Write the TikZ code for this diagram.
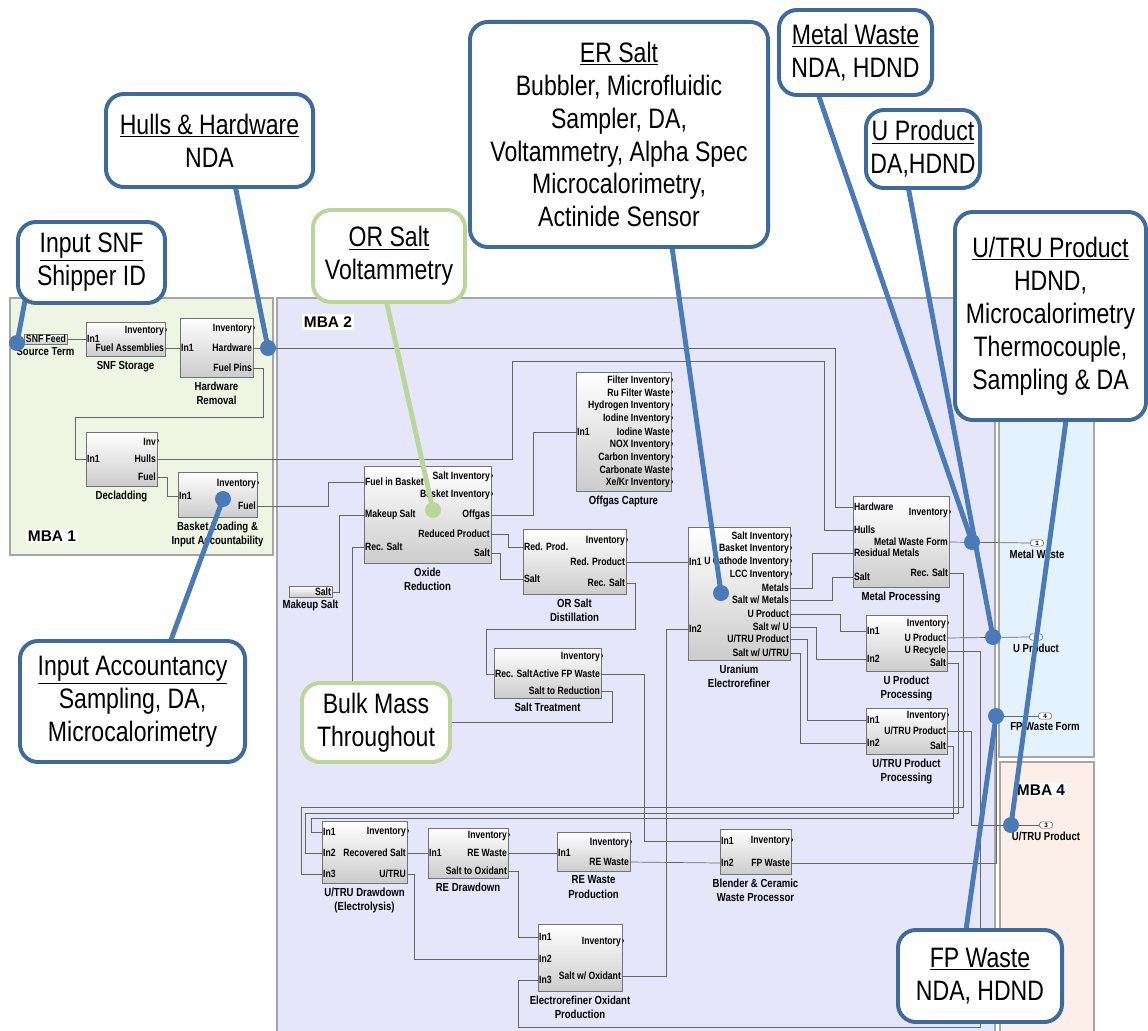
\documentclass[tikz,border=0pt]{standalone}
\usepackage{fontspec}
\setmainfont{Liberation Sans}
\newfontfamily\nar[FakeStretch=0.82]{Liberation Sans}
\usetikzlibrary{positioning,fit}
\definecolor{mbaone}{HTML}{EEF5E3}
\definecolor{mbatwo}{HTML}{E6E6FB}
\definecolor{mbathree}{HTML}{E4F2FD}
\definecolor{mbafour}{HTML}{FCEEE8}
\definecolor{callblue}{HTML}{4A7BB7}
\definecolor{callrim}{HTML}{3F6B9C}
\definecolor{callgreen}{HTML}{BBD698}

\begin{document}
\begin{tikzpicture}[x=0.025cm,y=-0.025cm,
  blk/.style={draw=black!55,line width=0.6pt,top color=white,bottom color=black!20,inner sep=0pt},
  portlbl/.style={font=\nar\bfseries\fontsize{7.5}{8}\selectfont,inner sep=0.8pt,outer sep=0pt},
  ip/.style={portlbl,anchor=west},
  op/.style={portlbl,anchor=east},
  inv/.style={op,label={[portlbl,inner sep=0pt,font=\nar\bfseries\fontsize{6}{6}\selectfont]east:›}},
  blkcap/.style={font=\nar\bfseries\fontsize{8.3}{10}\selectfont,align=center,inner sep=0pt},
  wire/.style={draw=black!60,line width=0.5pt},
  mba/.style={draw=black!35,line width=0.8pt},
  mbalbl/.style={fill=white,font=\bfseries\fontsize{11}{12}\selectfont,inner sep=1.5pt},
  oport/.style={draw=black!60,fill=white,rounded corners=2pt,minimum width=0.33cm,minimum height=0.16cm,inner sep=0pt,font=\bfseries\fontsize{4.5}{5}\selectfont},
  calloutbox/.style={draw=callrim,line width=2.8pt,rounded corners=0.45cm,fill=white,align=center,inner sep=0pt,font=\nar\fontsize{20}{23.4}\selectfont},
  greencall/.style={calloutbox,draw=callgreen},
  callline/.style={draw=callblue,line width=3.5pt},
  greenline/.style={draw=callgreen,line width=3.5pt},
  probe/.style={circle,fill=callblue,minimum size=0.4cm,inner sep=0pt}]

\useasboundingbox[fill=white] (0,0) rectangle (1148,1030);

% material balance areas
\filldraw[mba,fill=mbaone] (10,298) rectangle (273,555);
\filldraw[mba,fill=mbatwo] (277,298) rectangle (995,1032);
\filldraw[mba,fill=mbathree] (999,400) rectangle (1094,757);
\filldraw[mba,fill=mbafour] (1000,762) rectangle (1094,1032);
\node[mbalbl] (mba1) at (52,536) {MBA 1};
\node[mbalbl] (mba2) at (328,322) {MBA 2};
\node[mbalbl] (mba4) at (1041,790) {MBA 4};

% MBA 1 blocks
\node[blk,fit={(24,334) (67,344)}] (srcsnf) {};
\node[op] (srcsnf-out) at (67,339) {SNF Feed};
\node[blkcap,below=2pt of srcsnf] (srcsnf-cap) {Source Term};

\node[blk,fit={(86,322) (165,356)}] (snfst) {};
\node[ip] (snfst-in1) at (86,339) {In1};
\node[inv] (snfst-inv) at (165,331) {Inventory};
\node[op] (snfst-fa) at (165,348) {Fuel Assemblies};
\node[blkcap,below=3pt of snfst] (snfst-cap) {SNF Storage};

\node[blk,fit={(180,318) (253,377)}] (hwrem) {};
\node[ip] (hwrem-in1) at (180,348) {In1};
\node[inv] (hwrem-inv) at (253,329) {Inventory};
\node[op] (hwrem-hw) at (253,348) {Hardware};
\node[op] (hwrem-fp) at (253,368) {Fuel Pins};
\node[blkcap,below=3pt of hwrem] (hwrem-cap) {Hardware\\Removal};

\node[blk,fit={(86,432) (157,486)}] (decl) {};
\node[ip] (decl-in1) at (86,459) {In1};
\node[inv] (decl-inv) at (157,442) {Inv};
\node[op] (decl-hulls) at (157,459) {Hulls};
\node[op] (decl-fuel) at (157,477) {Fuel};
\node[blkcap,below=3pt of decl] (decl-cap) {Decladding};

\node[blk,fit={(178,472) (257,517)}] (bask) {};
\node[ip] (bask-in1) at (178,496) {In1};
\node[inv] (bask-inv) at (257,484) {Inventory};
\node[op] (bask-fuel) at (257,506) {Fuel};
\node[blkcap,below=3pt of bask] (bask-cap) {Basket Loading \&\\Input Accountability};

% MBA 2 blocks
\node[blk,fit={(364,466) (491,563)}] (oxred) {};
\node[ip] (oxred-fib) at (364,482) {Fuel in Basket};
\node[ip] (oxred-mks) at (364,515) {Makeup Salt};
\node[ip] (oxred-rs) at (364,547) {Rec. Salt};
\node[inv] (oxred-sinv) at (491,477) {Salt Inventory};
\node[inv] (oxred-binv) at (491,495) {Basket Inventory};
\node[op] (oxred-og) at (491,515) {Offgas};
\node[op] (oxred-rp) at (491,534) {Reduced Product};
\node[op] (oxred-salt) at (491,553) {Salt};
\node[blkcap,below=3pt of oxred] (oxred-cap) {Oxide\\Reduction};

\node[blk,fit={(289,586) (332,597)}] (srcsalt) {};
\node[op] (srcsalt-out) at (332,592) {Salt};
\node[blkcap,below=2pt of srcsalt] (srcsalt-cap) {Makeup Salt};

\node[blk,fit={(576,372) (671,491)}] (offgas) {};
\node[ip] (offgas-in1) at (576,432) {In1};
\node[inv] (offgas-o1) at (671,381) {Filter Inventory};
\node[inv] (offgas-o2) at (671,393) {Ru Filter Waste};
\node[inv] (offgas-o3) at (671,406) {Hydrogen Inventory};
\node[inv] (offgas-o4) at (671,419) {Iodine Inventory};
\node[inv] (offgas-o5) at (671,432) {Iodine Waste};
\node[inv] (offgas-o6) at (671,445) {NOX Inventory};
\node[inv] (offgas-o7) at (671,458) {Carbon Inventory};
\node[inv] (offgas-o8) at (671,470) {Carbonate Waste};
\node[inv] (offgas-o9) at (671,483) {Xe/Kr Inventory};
\node[blkcap,below=3pt of offgas] (offgas-cap) {Offgas Capture};

\node[blk,fit={(523,529) (626,594)}] (orsd) {};
\node[ip] (orsd-rp) at (523,547) {Red. Prod.};
\node[ip] (orsd-salt) at (523,579) {Salt};
\node[inv] (orsd-inv) at (626,541) {Inventory};
\node[op] (orsd-rpo) at (626,562) {Red. Product};
\node[op] (orsd-rs) at (626,583) {Rec. Salt};
\node[blkcap,below=3pt of orsd] (orsd-cap) {OR Salt\\Distillation};

\node[blk,fit={(494,648) (601,698)}] (salttr) {};
\node[ip] (salttr-rs) at (494,674) {Rec. Salt};
\node[inv] (salttr-inv) at (601,657) {Inventory};
\node[op] (salttr-afp) at (601,674) {Active FP Waste};
\node[op] (salttr-str) at (601,691) {Salt to Reduction};
\node[blkcap,below=3pt of salttr] (salttr-cap) {Salt Treatment};

\node[blk,fit={(688,527) (790,660)}] (uer) {};
\node[ip] (uer-in1) at (688,562) {In1};
\node[ip] (uer-in2) at (688,629) {In2};
\node[inv] (uer-sinv) at (790,537) {Salt Inventory};
\node[inv] (uer-binv) at (790,549) {Basket Inventory};
\node[inv] (uer-ucinv) at (790,562) {U Cathode Inventory};
\node[inv] (uer-lcc) at (790,575) {LCC Inventory};
\node[op] (uer-met) at (790,588) {Metals};
\node[op] (uer-swm) at (790,600) {Salt w/ Metals};
\node[op] (uer-up) at (790,614) {U Product};
\node[op] (uer-swu) at (790,627) {Salt w/ U};
\node[op] (uer-utp) at (790,639) {U/TRU Product};
\node[op] (uer-swut) at (790,653) {Salt w/ U/TRU};
\node[blkcap,below=3pt of uer] (uer-cap) {Uranium\\Electrorefiner};

\node[blk,fit={(853,496) (949,587)}] (metp) {};
\node[ip] (metp-hw) at (853,507) {Hardware};
\node[ip] (metp-hulls) at (853,530) {Hulls};
\node[ip] (metp-rm) at (853,553) {Residual Metals};
\node[ip] (metp-salt) at (853,577) {Salt};
\node[inv] (metp-inv) at (949,513) {Inventory};
\node[op] (metp-mwf) at (949,542) {Metal Waste Form};
\node[op] (metp-rs) at (949,573) {Rec. Salt};
\node[blkcap,below=3pt of metp] (metp-cap) {Metal Processing};

\node[blk,fit={(866,615) (947,671)}] (upp) {};
\node[ip] (upp-in1) at (866,631) {In1};
\node[ip] (upp-in2) at (866,659) {In2};
\node[inv] (upp-inv) at (947,624) {Inventory};
\node[op] (upp-up) at (947,638) {U Product};
\node[op] (upp-ur) at (947,651) {U Recycle};
\node[op] (upp-salt) at (947,663) {Salt};
\node[blkcap,below=3pt of upp] (upp-cap) {U Product\\Processing};

\node[blk,fit={(866,708) (947,754)}] (utp) {};
\node[ip] (utp-in1) at (866,720) {In1};
\node[ip] (utp-in2) at (866,743) {In2};
\node[inv] (utp-inv) at (947,716) {Inventory};
\node[op] (utp-utp) at (947,731) {U/TRU Product};
\node[op] (utp-salt) at (947,746) {Salt};
\node[blkcap,below=3pt of utp] (utp-cap) {U/TRU Product\\Processing};

\node[blk,fit={(322,821) (407,883)}] (utdd) {};
\node[ip] (utdd-in1) at (322,832) {In1};
\node[ip] (utdd-in2) at (322,853) {In2};
\node[ip] (utdd-in3) at (322,874) {In3};
\node[inv] (utdd-inv) at (407,832) {Inventory};
\node[op] (utdd-rcs) at (407,853) {Recovered Salt};
\node[op] (utdd-ut) at (407,874) {U/TRU};
\node[blkcap,below=3pt of utdd] (utdd-cap) {U/TRU Drawdown\\(Electrolysis)};

\node[blk,fit={(428,828) (508,878)}] (redd) {};
\node[ip] (redd-in1) at (428,853) {In1};
\node[inv] (redd-inv) at (508,836) {Inventory};
\node[op] (redd-rew) at (508,853) {RE Waste};
\node[op] (redd-sto) at (508,871) {Salt to Oxidant};
\node[blkcap,below=3pt of redd] (redd-cap) {RE Drawdown};

\node[blk,fit={(557,832) (630,871)}] (rewp) {};
\node[ip] (rewp-in1) at (557,853) {In1};
\node[inv] (rewp-inv) at (630,843) {Inventory};
\node[op] (rewp-rew) at (630,862) {RE Waste};
\node[blkcap,below=3pt of rewp] (rewp-cap) {RE Waste\\Production};

\node[blk,fit={(720,829) (791,874)}] (bcwp) {};
\node[ip] (bcwp-in1) at (720,841) {In1};
\node[ip] (bcwp-in2) at (720,863) {In2};
\node[inv] (bcwp-inv) at (791,841) {Inventory};
\node[op] (bcwp-fpw) at (791,863) {FP Waste};
\node[blkcap,below=3pt of bcwp] (bcwp-cap) {Blender \& Ceramic\\Waste Processor};

\node[blk,fit={(538,924) (622,991)}] (eox) {};
\node[ip] (eox-in1) at (538,937) {In1};
\node[ip] (eox-in2) at (538,959) {In2};
\node[ip] (eox-in3) at (538,980) {In3};
\node[inv] (eox-inv) at (622,942) {Inventory};
\node[op] (eox-swo) at (622,976) {Salt w/ Oxidant};
\node[blkcap,below=3pt of eox] (eox-cap) {Electrorefiner Oxidant\\Production};

% outports
\node[oport] (op-mw) at (1037,543) {1};
\node[blkcap,below=2pt of op-mw] (op-mw-cap) {Metal Waste};
\node[oport] (op-up) at (1036,637) {};
\node[blkcap,below=2pt of op-up] (op-up-cap) {U Product};
\node[oport] (op-fp) at (1045,716) {4};
\node[blkcap,below=2pt of op-fp] (op-fp-cap) {FP Waste Form};
\node[oport] (op-ut) at (1046,825) {3};
\node[blkcap,below=2pt of op-ut] (op-ut-cap) {U/TRU Product};

% signal lines
\draw[wire] (srcsnf-out.east) -- (snfst-in1.west);
\draw[wire] (snfst-fa.east) -- (hwrem-in1.west);
\draw[wire] (hwrem-fp.east) -| (263,417) -| (75,459) -- (decl-in1.west);
\draw[wire] (decl-fuel.east) -| (167,496) -- (bask-in1.west);
\draw[wire] (hwrem-hw.east) -| (835,507) -- (metp-hw.west);
\draw[wire] (decl-hulls.east) -| (512,361) -| (824,530) -- (metp-hulls.west);
\draw[wire] (bask-fuel.east) -| (328,482) -- (oxred-fib.west);
\draw[wire] (srcsalt-out.east) -| (339,515) -- (oxred-mks.west);
\draw[wire] (salttr-str.east) -| (612,722) -| (352,547) -- (oxred-rs.west);
\draw[wire] (oxred-og.east) -| (533,432) -- (offgas-in1.west);
\draw[wire] (oxred-rp.east) -| (508,547) -- (orsd-rp.west);
\draw[wire] (oxred-salt.east) -| (500,579) -- (orsd-salt.west);
\draw[wire] (orsd-rs.east) -| (635,629) -| (486,674) -- (salttr-rs.west);
\draw[wire] (orsd-rpo.east) -- (uer-in1.west);
\draw[wire] (salttr-afp.east) -| (644,841) -- (bcwp-in1.west);
\draw[wire] (uer-met.east) -| (812,553) -- (metp-rm.west);
\draw[wire] (uer-swm.east) -| (832,577) -- (metp-salt.west);
\draw[wire] (uer-up.east) -| (840,631) -- (upp-in1.west);
\draw[wire] (uer-swu.east) -| (816,659) -- (upp-in2.west);
\draw[wire] (uer-utp.east) -| (807,720) -- (utp-in1.west);
\draw[wire] (uer-swut.east) -| (800,743) -- (utp-in2.west);
\draw[wire] (metp-mwf.east) -- (op-mw.west);
\draw[wire] (upp-up.east) -- (op-up.west);
\draw[wire] (utp-utp.east) -| (971,825) -- (op-ut.west);
\draw[wire] (bcwp-fpw.east) -| (996,716) -- (op-fp.west);
\draw[wire] (metp-rs.east) -| (963,807) -| (301,874) -- (utdd-in3.west);
\draw[wire] (upp-salt.east) -| (958,813) -| (305,853) -- (utdd-in2.west);
\draw[wire] (utp-salt.east) -| (953,818) -| (311,832) -- (utdd-in1.west);
\draw[wire] (upp-ur.east) -| (980,1027) -| (518,980) -- (eox-in3.west);
\draw[wire] (utdd-rcs.east) -- (redd-in1.west);
\draw[wire] (utdd-ut.east) -| (414,959) -- (eox-in2.west);
\draw[wire] (redd-rew.east) -- (rewp-in1.west);
\draw[wire] (redd-sto.east) -| (518,937) -- (eox-in1.west);
\draw[wire] (eox-swo.east) -| (666,629) -- (uer-in2.west);
\draw[wire] (rewp-rew.east) -- (bcwp-in2.west);

% measurement callouts
\coordinate (a-snf) at (27,290);
\coordinate (a-hulls) at (234,180);
\coordinate (a-ors) at (385,295);
\coordinate (a-ers) at (671,240);
\coordinate (a-mw) at (816,88);
\coordinate (a-up) at (907,181);
\coordinate (a-utru) at (1067,413);
\coordinate (a-fpw) at (965,937);
\coordinate (a-ia) at (168,648);

\node[probe] (d-snf) at (17,343) {};
\node[probe] (d-hulls) at (268,348) {};
\node[probe,fill=callgreen] (d-ors) at (433,510) {};
\node[probe] (d-ers) at (721,593) {};
\node[probe] (d-mw) at (972,542) {};
\node[probe] (d-up) at (993,637) {};
\node[probe] (d-utru) at (1011,825) {};
\node[probe] (d-fpw) at (996,716) {};
\node[probe] (d-ia) at (223,499) {};

\draw[callline] (d-snf.center) -- (a-snf);
\draw[callline] (d-hulls.center) -- (a-hulls);
\draw[greenline] (d-ors.center) -- (a-ors);
\draw[callline] (d-ers.center) -- (a-ers);
\draw[callline] (d-mw.center) -- (a-mw);
\draw[callline] (d-up.center) -- (a-up);
\draw[callline] (d-utru.center) -- (a-utru);
\draw[callline] (d-fpw.center) -- (a-fpw);
\draw[callline] (d-ia.center) -- (a-ia);

\node[calloutbox,minimum width=3.675cm,minimum height=2.025cm] (co-snf) at (91.5,262.5) {\underline{Input SNF}\\Shipper ID};
\node[calloutbox,minimum width=5.175cm,minimum height=2.325cm] (co-hulls) at (209.5,140.5) {\underline{Hulls \& Hardware}\\NDA};
\node[greencall,minimum width=3.8cm,minimum height=2.3cm] (co-ors) at (389,256) {\underline{OR Salt}\\Voltammetry};
\node[calloutbox,minimum width=7.45cm,minimum height=5.625cm] (co-ers) at (619,134.5) {\underline{ER Salt}\\Bubbler, Microfluidic\\Sampler, DA,\\Voltammetry, Alpha Spec\\Microcalorimetry,\\Actinide Sensor};
\node[calloutbox,minimum width=3.825cm,minimum height=2.125cm] (co-mw) at (855.5,52.5) {\underline{Metal Waste}\\NDA, HDND};
\node[calloutbox,minimum width=2.85cm,minimum height=1.95cm] (co-up) at (923,149) {\underline{U Product}\\DA,HDND};
\node[calloutbox,minimum width=4.775cm,minimum height=5.2cm] (co-utru) at (1050.5,316) {\underline{U/TRU Product}\\HDND,\\Microcalorimetry\\Thermocouple,\\Sampling \& DA};
\node[calloutbox,minimum width=4.1cm,minimum height=2.3cm] (co-fpw) at (980,976) {\underline{FP Waste}\\NDA, HDND};
\node[calloutbox,minimum width=5.625cm,minimum height=3.025cm] (co-ia) at (132.5,701.5) {\underline{Input Accountancy}\\Sampling, DA,\\Microcalorimetry};
\node[greencall,minimum width=3.7cm,minimum height=1.975cm] (co-bulk) at (376,722.5) {Bulk Mass\\Throughout};
\end{tikzpicture}
\end{document}
